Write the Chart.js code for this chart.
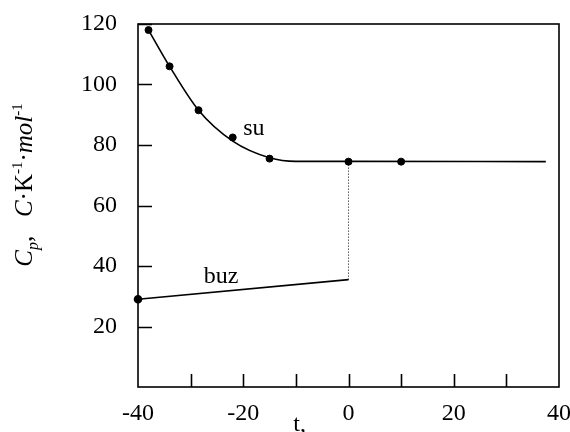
<!DOCTYPE html>
<html>
<head>
<meta charset="utf-8">
<script src="https://cdn.jsdelivr.net/npm/chart.js@4"></script>
<style>
  html, body { margin: 0; padding: 0; background: #fff; }
  #wrap { position: relative; width: 570px; height: 432px; }
</style>
</head>
<body>
<div id="wrap"><canvas id="cpChart"></canvas></div>
<script>
// heat capacity of water / ice vs temperature
const liquidT = [-38, -34, -28.5, -22, -15, 0, 10];
const liquidCp = [118, 106, 91.5, 82.5, 75.5, 74.5, 74.5];

// smooth fitted curve through the liquid branch
const curveT = [-38, -34, -28.5, -22, -15, -10, 0, 37.5];
const curveCp = [118, 106, 91.5, 81.3, 75.8, 74.6, 74.6, 74.5];

const iceT = [-40, 0];
const iceCp = [29, 35.5];

// melting jump at 0
const jumpT = [0, 0];
const jumpCp = [35.5, 74.5];

const xTickLabels = [-40, -20, 0, 20, 40];
const xTickMarks = [-30, -20, -10, 0, 10, 20, 30];
const yTickLabels = [20, 40, 60, 80, 100, 120];

const labels = [
  { text: 'su', x: -20, y: 83.3 },
  { text: 'buz', x: -27.5, y: 34.4 }
];

const SERIF = '"Liberation Serif", "DejaVu Serif", serif';
const toPts = (xs, ys) => xs.map((x, i) => ({ x: x, y: ys[i] }));

// frame, inward tick marks, curve labels and axis titles
const decorations = {
  id: 'decorations',
  afterDatasetsDraw(chart) {
    const ctx = chart.ctx;
    const a = chart.chartArea;
    const xs = chart.scales.x, ys = chart.scales.y;
    ctx.save();
    ctx.strokeStyle = '#000';
    ctx.lineWidth = 1.6;
    ctx.strokeRect(a.left, a.top, a.right - a.left, a.bottom - a.top);

    ctx.beginPath();
    yTickLabels.forEach(v => {
      const py = Math.round(ys.getPixelForValue(v)) + 0.5;
      ctx.moveTo(a.left, py);
      ctx.lineTo(a.left + 14, py);
    });
    xTickMarks.forEach(v => {
      const px = Math.round(xs.getPixelForValue(v)) + 0.5;
      ctx.moveTo(px, a.bottom);
      ctx.lineTo(px, a.bottom - 13);
    });
    ctx.stroke();

    ctx.fillStyle = '#000';
    ctx.font = '24px ' + SERIF;
    ctx.textBaseline = 'alphabetic';
    ctx.textAlign = 'left';
    labels.forEach(l => {
      ctx.fillText(l.text, xs.getPixelForValue(l.x), ys.getPixelForValue(l.y));
    });

    // x title
    ctx.textAlign = 'center';
    ctx.fillText('t,', xs.getPixelForValue(-9.3), 431);

    // y title: C_p,  C·K^-1·mol^-1 (rotated)
    const parts = [
      { t: 'C', f: 'italic 25px ' + SERIF, dy: 0 },
      { t: 'p', f: 'italic 16px ' + SERIF, dy: 6 },
      { t: ',', f: '25px ' + SERIF, dy: 0 },
      { t: '   ', f: '25px ' + SERIF, dy: 0 },
      { t: 'C', f: 'italic 25px ' + SERIF, dy: 0 },
      { t: '\u00b7K', f: '25px ' + SERIF, dy: 0 },
      { t: '-1', f: '15px ' + SERIF, dy: -10 },
      { t: '\u00b7', f: '25px ' + SERIF, dy: 0 },
      { t: 'mol', f: 'italic 25px ' + SERIF, dy: 0 },
      { t: '-1', f: '15px ' + SERIF, dy: -10 }
    ];
    let total = 0;
    parts.forEach(p => { ctx.font = p.f; p.w = ctx.measureText(p.t).width; total += p.w; });
    ctx.translate(32, 185);
    ctx.rotate(-Math.PI / 2);
    ctx.textAlign = 'left';
    let cx = -total / 2;
    parts.forEach(p => {
      ctx.font = p.f;
      ctx.fillText(p.t, cx, p.dy);
      cx += p.w;
    });
    ctx.restore();
  }
};

new Chart(document.getElementById('cpChart'), {
  type: 'scatter',
  data: {
    datasets: [
      {
        data: toPts(curveT, curveCp),
        showLine: true,
        cubicInterpolationMode: 'monotone',
        borderColor: '#000',
        borderWidth: 1.6,
        pointRadius: 0,
        clip: false
      },
      {
        data: toPts(liquidT, liquidCp),
        showLine: false,
        pointRadius: 3.5,
        pointBackgroundColor: '#000',
        pointBorderColor: '#000',
        clip: false
      },
      {
        data: toPts(iceT, iceCp),
        showLine: true,
        borderColor: '#000',
        borderWidth: 1.6,
        pointRadius: [3.5, 0],
        pointBackgroundColor: '#000',
        pointBorderColor: '#000',
        clip: false
      },
      {
        data: toPts(jumpT, jumpCp),
        showLine: true,
        borderColor: '#000',
        borderWidth: 1,
        borderDash: [1, 2],
        pointRadius: 0,
        clip: false
      }
    ]
  },
  options: {
    responsive: true,
    maintainAspectRatio: false,
    animation: false,
    events: [],
    layout: { padding: { top: 24, right: 11, left: 0, bottom: 0 } },
    plugins: { legend: { display: false }, tooltip: { enabled: false } },
    scales: {
      x: {
        type: 'linear',
        min: -40,
        max: 40,
        afterBuildTicks: s => { s.ticks = xTickLabels.map(v => ({ value: v })); },
        afterFit: s => { s.height = 45; s.paddingLeft = 0; s.paddingRight = 0; },
        grid: { display: false, drawTicks: false },
        border: { display: false },
        ticks: { color: '#000', padding: 12, maxRotation: 0, font: { family: SERIF, size: 24 } }
      },
      y: {
        type: 'linear',
        min: 0,
        max: 120,
        afterBuildTicks: s => { s.ticks = yTickLabels.map(v => ({ value: v })); },
        afterFit: s => { s.width = 138; s.paddingTop = 0; s.paddingBottom = 0; },
        grid: { display: false, drawTicks: false },
        border: { display: false },
        ticks: { color: '#000', padding: 21, font: { family: SERIF, size: 24 } }
      }
    }
  },
  plugins: [decorations]
});
</script>
</body>
</html>
